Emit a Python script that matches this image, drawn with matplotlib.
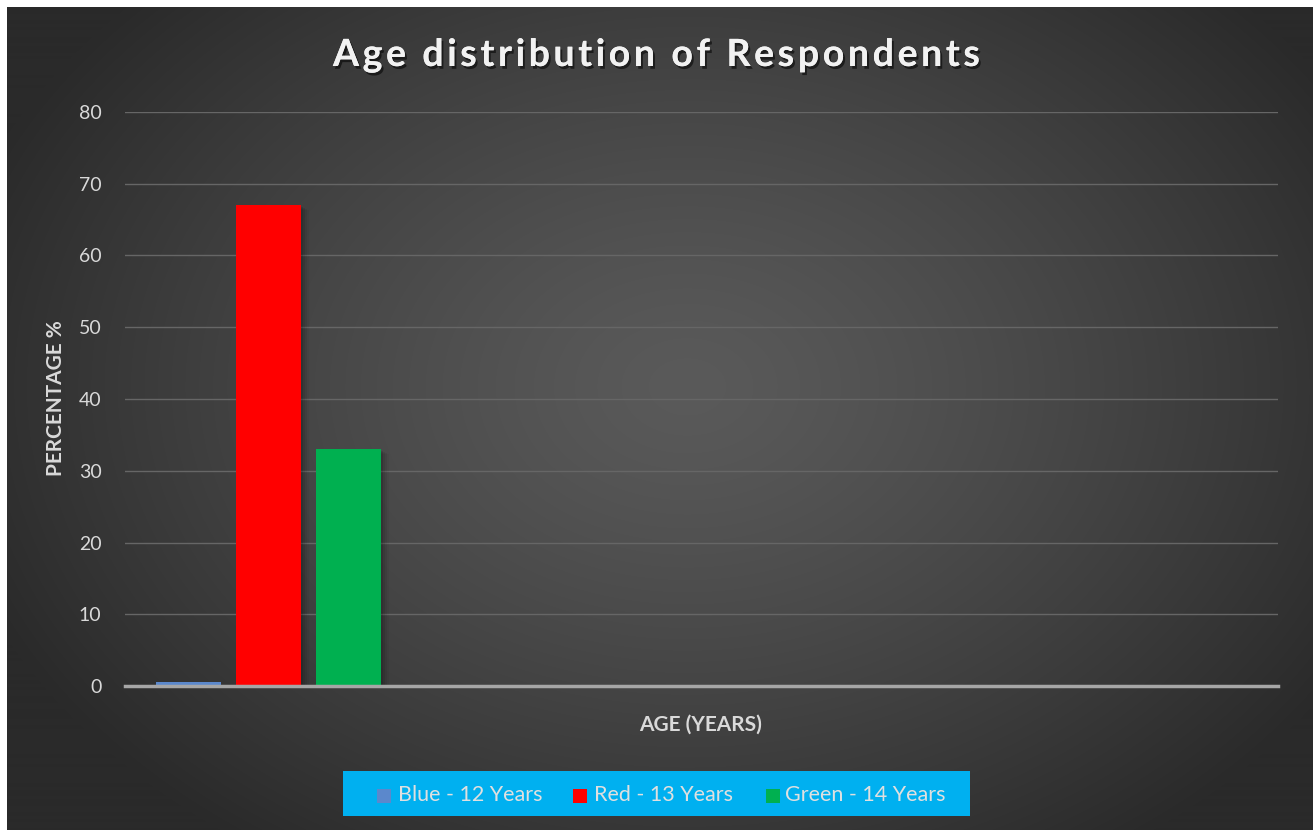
import numpy as np
import matplotlib
matplotlib.use("Agg")
import matplotlib.pyplot as plt
from matplotlib.patches import Rectangle
import matplotlib.patheffects as pe

# Data
series = ["Blue - 12 Years", "Red - 13 Years", "Green - 14 Years"]
values = [0.6, 67, 33]
colors = ["#5b88cc", "#ff0000", "#00b050"]
yticks = [0, 10, 20, 30, 40, 50, 60, 70, 80]
title = "Age distribution of Respondents"

FONT = "Lato"
W, H = 1313, 830
fig = plt.figure(figsize=(W / 100, H / 100), dpi=100, facecolor="white")

# Background with radial gradient
bg = fig.add_axes([7 / W, 0, 1 - 7 / W, 1 - 7 / H])
bg.set_axis_off()
yy, xx = np.mgrid[0:H - 7, 0:W - 7]
cx, cy = 680, 380
d = np.sqrt(((xx - cx) / 760.0) ** 2 + ((yy - cy) / 560.0) ** 2)
d = np.clip(d, 0, 1)
inner, outer = 0x5a, 0x2a
val = (inner + (outer - inner) * d ** 1.3) / 255.0
img = np.dstack([val, val, val])
bg.imshow(img, aspect="auto", extent=[0, 1, 0, 1], origin="upper")
bg.set_xlim(0, 1)
bg.set_ylim(0, 1)

# Main axes: x 125..1278, y 112..686 (pixels from top)
left, right, top, bottom = 125, 1278, 112, 686
ax = fig.add_axes([left / W, 1 - bottom / H, (right - left) / W, (bottom - top) / H])
ax.patch.set_alpha(0)

pos = np.arange(len(values))
bw = 65 / 80
# soft shadows
for x, v in zip(pos, values):
    if v > 2:
        for k, a in enumerate([0.10, 0.08, 0.06, 0.04]):
            off = 0.02 + 0.025 * k
            ax.add_patch(Rectangle((x - bw / 2 + off, 0), bw, v - 0.3 - 0.1 * k,
                                   facecolor="black", alpha=a, zorder=2, lw=0))
ax.bar(pos, values, width=bw, color=colors, zorder=3)

ax.set_xlim(-0.794, 13.62)
ax.set_ylim(0, 80)
ax.set_yticks(yticks)
ax.set_xticks([])
ax.grid(axis="y", color="#666666", linewidth=1.0, zorder=0)
for s in ["top", "right", "left"]:
    ax.spines[s].set_visible(False)
ax.spines["bottom"].set_color("#a6a6a6")
ax.spines["bottom"].set_linewidth(2.5)
ax.spines["bottom"].set_zorder(4)
ax.tick_params(axis="y", length=0, pad=17, labelsize=14, labelcolor="#d9d9d9")
for lab in ax.get_yticklabels():
    lab.set_fontfamily(FONT)

# Axis titles
fig.text(56 / W, 1 - 398 / H, "PERCENTAGE %", rotation=90, ha="center", va="center",
         fontsize=15, fontweight="bold", color="#d9d9d9", family=FONT)
fig.text(701 / W, 1 - 725 / H, "AGE (YEARS)", ha="center", va="center",
         fontsize=15, fontweight="bold", color="#d9d9d9", family=FONT)

# Title, drawn with letter spacing to fit the reference width
renderer = fig.canvas.get_renderer()
tsize = 27
widths = []
for ch in title:
    t = fig.text(0, 0, ch if ch != " " else "a a", fontsize=tsize, fontweight="bold", family=FONT)
    w = t.get_window_extent(renderer).width
    if ch == " ":
        t2 = fig.text(0, 0, "aa", fontsize=tsize, fontweight="bold", family=FONT)
        w = w - t2.get_window_extent(renderer).width
        t2.remove()
    widths.append(w)
    t.remove()
target_w = 647
natural = sum(widths)
gap = (target_w - natural) / (len(title) - 1)
xcur = 333
shadow = [pe.withSimplePatchShadow(offset=(1.5, -2), alpha=0.55, shadow_rgbFace="black"), pe.Normal()]
for ch, w in zip(title, widths):
    if ch != " ":
        fig.text(xcur / W, 1 - 55 / H, ch, ha="left", va="center", fontsize=tsize,
                 fontweight="bold", color="#f2f2f2", family=FONT, path_effects=shadow)
    xcur += w + gap

# Legend box
lx0, lx1, ly0, ly1 = 343, 970, 771, 816
fig.patches.append(Rectangle((lx0 / W, 1 - ly1 / H), (lx1 - lx0) / W, (ly1 - ly0) / H,
                             transform=fig.transFigure, facecolor="#00b0f0",
                             edgecolor="none", zorder=5))
sq_x = [377, 573, 766]
tx_x = [398, 594, 785]
for sx, tx, lab, c in zip(sq_x, tx_x, series, colors):
    fig.patches.append(Rectangle((sx / W, 1 - 803 / H), 14 / W, 14 / H,
                                 transform=fig.transFigure, facecolor=c,
                                 edgecolor="none", zorder=6))
    fig.text(tx / W, 1 - 795 / H, lab, ha="left", va="center", fontsize=15.5,
             color="#e0e0e0", family=FONT, zorder=7)

fig.savefig("out.png", dpi=100, facecolor=fig.get_facecolor())
